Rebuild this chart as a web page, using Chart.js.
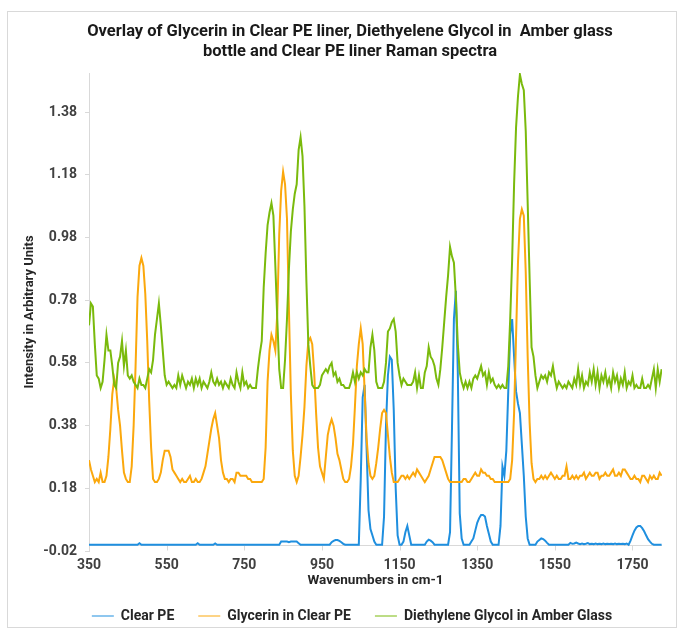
<!DOCTYPE html>
<html>
<head>
<meta charset="utf-8">
<script src="https://cdn.jsdelivr.net/npm/chart.js@4.4.0/dist/chart.umd.min.js"></script>
<style>
  html, body { margin: 0; padding: 0; background: #fff; }
</style>
</head>
<body>
<canvas id="ramanChart" width="684" height="629"></canvas>
<script>
// wavenumbers (cm-1) shared by all three spectra
var wavenumbers = [
  350, 355, 360, 365, 370, 375, 380, 385, 390, 395,
  400, 405, 410, 415, 420, 425, 430, 435, 440, 445,
  450, 455, 460, 465, 470, 475, 480, 485, 490, 495,
  500, 505, 510, 515, 520, 525, 530, 535, 540, 545,
  550, 555, 560, 565, 570, 575, 580, 585, 590, 595,
  600, 605, 610, 615, 620, 625, 630, 635, 640, 645,
  650, 655, 660, 665, 670, 675, 680, 685, 690, 695,
  700, 705, 710, 715, 720, 725, 730, 735, 740, 745,
  750, 755, 760, 765, 770, 775, 780, 785, 790, 795,
  800, 805, 810, 815, 820, 825, 830, 835, 840, 845,
  850, 855, 860, 865, 870, 875, 880, 885, 890, 895,
  900, 905, 910, 915, 920, 925, 930, 935, 940, 945,
  950, 955, 960, 965, 970, 975, 980, 985, 990, 995,
  1000, 1005, 1010, 1015, 1020, 1025, 1030, 1035, 1040, 1045,
  1050, 1055, 1060, 1065, 1070, 1075, 1080, 1085, 1090, 1095,
  1100, 1105, 1110, 1115, 1120, 1125, 1130, 1135, 1140, 1145,
  1150, 1155, 1160, 1165, 1170, 1175, 1180, 1185, 1190, 1195,
  1200, 1205, 1210, 1215, 1220, 1225, 1230, 1235, 1240, 1245,
  1250, 1255, 1260, 1265, 1270, 1275, 1280, 1285, 1290, 1295,
  1300, 1305, 1310, 1315, 1320, 1325, 1330, 1335, 1340, 1345,
  1350, 1355, 1360, 1365, 1370, 1375, 1380, 1385, 1390, 1395,
  1400, 1405, 1410, 1415, 1420, 1425, 1430, 1435, 1440, 1445,
  1450, 1455, 1460, 1465, 1470, 1475, 1480, 1485, 1490, 1495,
  1500, 1505, 1510, 1515, 1520, 1525, 1530, 1535, 1540, 1545,
  1550, 1555, 1560, 1565, 1570, 1575, 1580, 1585, 1590, 1595,
  1600, 1605, 1610, 1615, 1620, 1625, 1630, 1635, 1640, 1645,
  1650, 1655, 1660, 1665, 1670, 1675, 1680, 1685, 1690, 1695,
  1700, 1705, 1710, 1715, 1720, 1725, 1730, 1735, 1740, 1745,
  1750, 1755, 1760, 1765, 1770, 1775, 1780, 1785, 1790, 1795,
  1800, 1805, 1810, 1815, 1820, 1825
];

var clearPE = [
  0, 0, 0, 0, 0, 0, 0, 0, 0, 0,
  0, 0, 0, 0, 0, 0, 0, 0, 0, 0,
  0, 0, 0, 0, 0, 0, 0.005, 0, 0, 0,
  0, 0, 0, 0, 0, 0, 0, 0, 0, 0,
  0, 0, 0, 0, 0, 0, 0, 0, 0, 0,
  0, 0, 0, 0, 0, 0, 0.005, 0, 0, 0,
  0, 0, 0, 0, 0, 0.004, 0, 0, 0, 0,
  0, 0, 0, 0, 0, 0, 0, 0, 0, 0,
  0, 0, 0, 0, 0, 0, 0, 0, 0, 0,
  0, 0, 0, 0, 0, 0, 0, 0, 0, 0.01,
  0.01, 0.01, 0.01, 0.008, 0.01, 0.01, 0.01, 0.01, 0.005, 0,
  0, 0, 0, 0, 0, 0, 0, 0, 0, 0,
  0, 0, 0, 0, 0, 0.008, 0.012, 0.015, 0.015, 0.012,
  0.008, 0.003, 0, 0, 0, 0, 0, 0, 0, 0,
  0.21, 0.47, 0.51, 0.31, 0.11, 0.05, 0.03, 0.01, 0, 0,
  0, 0, 0.09, 0.38, 0.54, 0.60, 0.59, 0.43, 0.18, 0.03,
  0, 0, 0.01, 0.04, 0.06, 0.03, 0, 0, 0, 0,
  0, 0, 0, 0, 0.01, 0.016, 0.013, 0.008, 0, 0,
  0, 0, 0, 0, 0, 0, 0.04, 0.37, 0.72, 0.81,
  0.55, 0.10, 0.02, 0, 0, 0, 0, 0.01, 0.02, 0.045,
  0.07, 0.085, 0.095, 0.095, 0.09, 0.06, 0.035, 0.01, 0, 0,
  0, 0, 0.06, 0.25, 0.22, 0.30, 0.49, 0.67, 0.72, 0.60,
  0.49, 0.45, 0.42, 0.32, 0.22, 0.09, 0.02, 0, 0, 0,
  0, 0.01, 0.015, 0.02, 0.018, 0.013, 0.006, 0, 0, 0,
  0, 0, 0, 0, 0, 0, 0, 0, 0.006, 0.003,
  0.004, 0.007, 0.004, 0.002, 0.004, 0.002, 0.003, 0.005, 0.002, 0.003,
  0.002, 0.004, 0.002, 0.003, 0.002, 0.004, 0.002, 0.003, 0.002, 0.003,
  0.002, 0.004, 0.002, 0.003, 0.002, 0.003, 0.002, 0.004, 0, 0.013,
  0.03, 0.045, 0.055, 0.06, 0.06, 0.053, 0.043, 0.03, 0.018, 0.01,
  0.003, 0, 0, 0, 0, 0
];

var glycerinInPE = [
  0.27, 0.24, 0.22, 0.20, 0.21, 0.20, 0.23, 0.20, 0.20, 0.22,
  0.28, 0.37, 0.48, 0.53, 0.50, 0.43, 0.38, 0.30, 0.23, 0.21,
  0.20, 0.20, 0.25, 0.38, 0.57, 0.79, 0.89, 0.915, 0.89, 0.80,
  0.65, 0.46, 0.31, 0.21, 0.20, 0.20, 0.21, 0.23, 0.27, 0.30,
  0.30, 0.30, 0.28, 0.24, 0.23, 0.22, 0.21, 0.20, 0.21, 0.20,
  0.20, 0.21, 0.22, 0.20, 0.20, 0.21, 0.20, 0.20, 0.21, 0.23,
  0.25, 0.29, 0.33, 0.37, 0.40, 0.42, 0.38, 0.34, 0.27, 0.23,
  0.21, 0.21, 0.20, 0.21, 0.21, 0.20, 0.23, 0.23, 0.22, 0.22,
  0.22, 0.22, 0.21, 0.21, 0.20, 0.20, 0.20, 0.20, 0.20, 0.20,
  0.21, 0.31, 0.52, 0.62, 0.67, 0.65, 0.62, 0.74, 0.99, 1.13,
  1.19, 1.15, 1.04, 0.75, 0.48, 0.30, 0.22, 0.20, 0.22, 0.28,
  0.35, 0.44, 0.57, 0.65, 0.66, 0.64, 0.55, 0.42, 0.31, 0.25,
  0.23, 0.21, 0.28, 0.35, 0.38, 0.40, 0.38, 0.34, 0.29, 0.27,
  0.24, 0.21, 0.20, 0.20, 0.21, 0.25, 0.32, 0.44, 0.57, 0.64,
  0.69, 0.64, 0.49, 0.34, 0.26, 0.22, 0.21, 0.22, 0.26, 0.31,
  0.37, 0.42, 0.43, 0.42, 0.35, 0.28, 0.23, 0.20, 0.20, 0.20,
  0.21, 0.22, 0.22, 0.21, 0.22, 0.21, 0.22, 0.23, 0.22, 0.24,
  0.23, 0.22, 0.21, 0.20, 0.21, 0.22, 0.24, 0.26, 0.28, 0.28,
  0.28, 0.28, 0.27, 0.25, 0.23, 0.21, 0.20, 0.20, 0.20, 0.20,
  0.20, 0.20, 0.20, 0.21, 0.21, 0.20, 0.20, 0.21, 0.22, 0.23,
  0.22, 0.22, 0.24, 0.23, 0.23, 0.22, 0.22, 0.21, 0.21, 0.20,
  0.20, 0.20, 0.20, 0.20, 0.20, 0.20, 0.20, 0.21, 0.27, 0.42,
  0.66, 0.90, 1.04, 1.07, 1.05, 0.87, 0.60, 0.39, 0.26, 0.21,
  0.20, 0.21, 0.21, 0.22, 0.21, 0.22, 0.21, 0.22, 0.23, 0.22,
  0.21, 0.22, 0.21, 0.21, 0.22, 0.22, 0.25, 0.21, 0.21, 0.22,
  0.21, 0.22, 0.21, 0.22, 0.22, 0.23, 0.21, 0.22, 0.23, 0.22,
  0.22, 0.23, 0.23, 0.21, 0.22, 0.22, 0.23, 0.22, 0.22, 0.23,
  0.24, 0.22, 0.22, 0.23, 0.22, 0.24, 0.24, 0.23, 0.22, 0.21,
  0.21, 0.22, 0.21, 0.21, 0.20, 0.22, 0.22, 0.21, 0.20, 0.22,
  0.21, 0.22, 0.21, 0.21, 0.23, 0.22
];

var diethyleneGlycolAmber = [
  0.70, 0.77, 0.76, 0.64, 0.54, 0.53, 0.50, 0.52, 0.59, 0.67,
  0.62, 0.62, 0.57, 0.51, 0.50, 0.58, 0.60, 0.65, 0.57, 0.62,
  0.54, 0.53, 0.54, 0.52, 0.51, 0.50, 0.53, 0.51, 0.51, 0.50,
  0.53, 0.56, 0.55, 0.59, 0.67, 0.72, 0.77, 0.70, 0.62, 0.54,
  0.51, 0.52, 0.51, 0.50, 0.51, 0.50, 0.54, 0.51, 0.54, 0.52,
  0.50, 0.52, 0.51, 0.53, 0.50, 0.53, 0.51, 0.53, 0.50, 0.52,
  0.51, 0.50, 0.52, 0.55, 0.52, 0.51, 0.53, 0.51, 0.52, 0.50,
  0.52, 0.51, 0.50, 0.53, 0.51, 0.50, 0.55, 0.52, 0.50, 0.55,
  0.51, 0.52, 0.50, 0.51, 0.50, 0.50, 0.50, 0.56, 0.61, 0.65,
  0.82, 0.93, 1.02, 1.06, 1.09, 1.05, 0.89, 0.72, 0.56, 0.50,
  0.50, 0.59, 0.72, 0.88, 1.00, 1.07, 1.12, 1.15, 1.26, 1.30,
  1.24, 1.08, 0.84, 0.64, 0.57, 0.51, 0.50, 0.50, 0.50, 0.51,
  0.54, 0.55, 0.56, 0.55, 0.57, 0.58, 0.54, 0.55, 0.52, 0.53,
  0.51, 0.51, 0.50, 0.50, 0.50, 0.52, 0.55, 0.52, 0.55, 0.53,
  0.55, 0.54, 0.56, 0.55, 0.55, 0.63, 0.67, 0.62, 0.52, 0.50,
  0.50, 0.50, 0.52, 0.58, 0.68, 0.69, 0.71, 0.72, 0.68, 0.58,
  0.54, 0.51, 0.53, 0.52, 0.51, 0.51, 0.51, 0.52, 0.55, 0.50,
  0.54, 0.50, 0.50, 0.55, 0.57, 0.63, 0.60, 0.59, 0.57, 0.53,
  0.51, 0.56, 0.63, 0.71, 0.79, 0.86, 0.95, 0.92, 0.90, 0.79,
  0.64, 0.55, 0.52, 0.50, 0.52, 0.50, 0.52, 0.50, 0.53, 0.54,
  0.53, 0.55, 0.57, 0.54, 0.55, 0.51, 0.55, 0.52, 0.53, 0.51,
  0.50, 0.51, 0.50, 0.51, 0.50, 0.50, 0.57, 0.72, 0.91, 1.15,
  1.33, 1.43, 1.50, 1.47, 1.45, 1.32, 1.09, 0.85, 0.63, 0.60,
  0.54, 0.50, 0.52, 0.54, 0.53, 0.54, 0.52, 0.55, 0.54, 0.57,
  0.53, 0.50, 0.52, 0.51, 0.50, 0.51, 0.50, 0.52, 0.51, 0.50,
  0.53, 0.51, 0.56, 0.51, 0.54, 0.50, 0.52, 0.51, 0.55, 0.52,
  0.56, 0.51, 0.55, 0.50, 0.54, 0.52, 0.55, 0.51, 0.53, 0.50,
  0.55, 0.52, 0.54, 0.50, 0.53, 0.51, 0.55, 0.50, 0.52, 0.51,
  0.54, 0.50, 0.51, 0.50, 0.50, 0.53, 0.50, 0.50, 0.51, 0.50,
  0.53, 0.56, 0.50, 0.56, 0.52, 0.56
];

var seriesNames = ['Clear PE', 'Glycerin in Clear PE', 'Diethylene Glycol in Amber Glass'];
var seriesColors = ['#1f8fdf', '#fba80d', '#7aba0c'];
var xTickValues = [350, 550, 750, 950, 1150, 1350, 1550, 1750];
var yTickValues = [-0.02, 0.18, 0.38, 0.58, 0.78, 0.98, 1.18, 1.38];

function toPoints(values) {
  return values.map(function(v, i) { return { x: wavenumbers[i], y: v }; });
}

Chart.defaults.font.family = 'Roboto, "Liberation Sans", sans-serif';

// outer frame, the zero line the x axis sits on, and small position fixes
var excelLook = {
  id: 'excelLook',
  beforeDraw: function(chart) {
    var c = chart.ctx;
    c.save();
    c.strokeStyle = '#d9d9d9';
    c.lineWidth = 1;
    c.strokeRect(7.5, 11.5, 669, 616);
    c.restore();
  },
  beforeDatasetsDraw: function(chart) {
    var c = chart.ctx, xs = chart.scales.x, ys = chart.scales.y;
    var y0 = Math.round(ys.getPixelForValue(0)) + 0.5;
    c.save();
    c.strokeStyle = '#d9d9d9';
    c.lineWidth = 1;
    c.beginPath();
    c.moveTo(chart.chartArea.left, y0);
    c.lineTo(chart.chartArea.right, y0);
    xTickValues.forEach(function(v) {
      var px = Math.round(xs.getPixelForValue(v)) + 0.5;
      c.moveTo(px, y0);
      c.lineTo(px, y0 + 5);
    });
    c.stroke();
    c.restore();
  },
  afterLayout: function(chart) {
    chart.titleBlock.left += 19;
    chart.titleBlock.right += 19;
    chart.legend.left += 21;
    chart.legend.right += 21;
    chart.legend.top -= 6;
    chart.legend.bottom -= 6;
  }
};

var ctx = document.getElementById('ramanChart').getContext('2d');
var ramanChart = new Chart(ctx, {
  type: 'line',
  data: {
    datasets: [
      { label: seriesNames[0], data: toPoints(clearPE), borderColor: seriesColors[0], backgroundColor: seriesColors[0], order: 3 },
      { label: seriesNames[1], data: toPoints(glycerinInPE), borderColor: seriesColors[1], backgroundColor: seriesColors[1], order: 2 },
      { label: seriesNames[2], data: toPoints(diethyleneGlycolAmber), borderColor: seriesColors[2], backgroundColor: seriesColors[2], order: 1 }
    ]
  },
  options: {
    responsive: false,
    animation: false,
    layout: { padding: { left: 0, right: 22, top: 0, bottom: 0 } },
    elements: {
      point: { radius: 0 },
      line: { borderWidth: 2, tension: 0 }
    },
    plugins: {
      title: {
        display: true,
        text: ['Overlay of Glycerin in Clear PE liner, Diethyelene Glycol in  Amber glass', 'bottle and Clear PE liner Raman spectra'],
        color: '#1a1a1a',
        font: { size: 16.5, weight: 'bold', lineHeight: 1.2 },
        padding: { top: 22, bottom: 11.4 }
      },
      legend: {
        position: 'bottom',
        maxHeight: 38,
        labels: {
          usePointStyle: true,
          pointStyle: 'line',
          pointStyleWidth: 22,
          padding: 24,
          color: '#262626',
          font: { size: 14, weight: 'bold' },
          sort: function(a, b) { return a.datasetIndex - b.datasetIndex; }
        }
      },
      tooltip: { enabled: false }
    },
    scales: {
      x: {
        type: 'linear',
        min: 350,
        max: 1826,
        afterBuildTicks: function(s) { s.ticks = xTickValues.map(function(v) { return { value: v }; }); },
        afterFit: function(s) { s.height = 40; },
        border: { display: false },
        grid: { display: false },
        ticks: {
          padding: -2,
          color: '#404040',
          font: { size: 14, weight: 'bold' },
          maxRotation: 0,
          callback: function(v) { return String(v); }
        },
        title: {
          display: true,
          text: 'Wavenumbers in cm-1',
          color: '#262626',
          font: { size: 13.5, weight: 'bold' },
          padding: { top: 0, bottom: 2 }
        }
      },
      y: {
        min: -0.02,
        max: 1.505,
        afterBuildTicks: function(s) { s.ticks = yTickValues.map(function(v) { return { value: v }; }); },
        afterFit: function(s) { s.width = 89; },
        border: { display: true, color: '#d9d9d9' },
        grid: { drawOnChartArea: false, tickLength: 4, color: '#d9d9d9' },
        ticks: {
          padding: 8,
          color: '#404040',
          font: { size: 14, weight: 'bold' },
          callback: function(v) { return v.toFixed(2); }
        },
        title: {
          display: true,
          text: 'Intensity in Arbitrary Units',
          color: '#262626',
          font: { size: 13, weight: 'bold' },
          padding: { top: 22, bottom: 0 }
        }
      }
    }
  },
  plugins: [excelLook]
});
</script>
</body>
</html>
